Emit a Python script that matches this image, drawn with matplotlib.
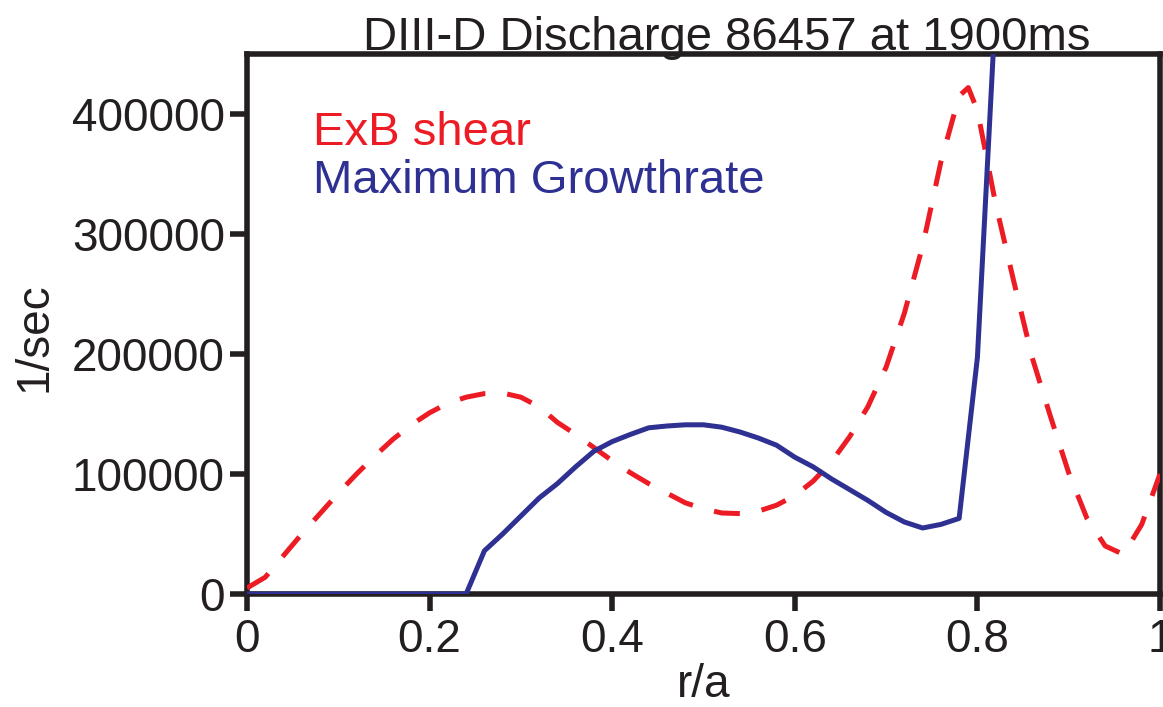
import numpy as np
import matplotlib
matplotlib.use("Agg")
import matplotlib.pyplot as plt

plt.rcParams['font.family'] = ['Liberation Sans', 'DejaVu Sans']

# r/a grid, sampled every 0.02 (with an extra point near the shear peak)
r_shear = [0.00, 0.02, 0.04, 0.06, 0.08, 0.10, 0.12, 0.14, 0.16, 0.18,
           0.20, 0.22, 0.24, 0.26, 0.28, 0.30, 0.32, 0.34, 0.36, 0.38,
           0.40, 0.42, 0.44, 0.46, 0.48, 0.50, 0.52, 0.54, 0.56, 0.58,
           0.60, 0.62, 0.64, 0.66, 0.68, 0.70, 0.72, 0.74, 0.76, 0.78,
           0.79, 0.80, 0.82, 0.84, 0.86, 0.88, 0.90, 0.92, 0.94, 0.96,
           0.98, 1.00]
exb_shear = [5000, 14000, 32000, 50000, 67000, 84000, 100000, 115000, 129000, 141000,
             151000, 159000, 164000, 167000, 167500, 164000, 156000, 143000, 133000, 122000,
             111000, 101000, 92000, 84000, 76000, 71000, 67500, 67000, 69000, 74000,
             82000, 94000, 110000, 131000, 156000, 189000, 234000, 290000, 360000, 415000,
             422000, 403000, 325000, 260000, 197000, 148000, 101000, 63000, 40000, 33000,
             58000, 100000]

r_growth = [0.00, 0.02, 0.04, 0.06, 0.08, 0.10, 0.12, 0.14, 0.16, 0.18,
            0.20, 0.22, 0.24, 0.26, 0.28, 0.30, 0.32, 0.34, 0.36, 0.38,
            0.40, 0.42, 0.44, 0.46, 0.48, 0.50, 0.52, 0.54, 0.56, 0.58,
            0.60, 0.62, 0.64, 0.66, 0.68, 0.70, 0.72, 0.74, 0.76, 0.78,
            0.80, 0.82]
max_growth = [0, 0, 0, 0, 0, 0, 0, 0, 0, 0,
              0, 0, 0, 36000, 50000, 65000, 80000, 92000, 106000, 119000,
              127000, 133000, 138500, 140000, 141000, 141000, 139000, 135000, 130000, 124000,
              114000, 106000, 96000, 87000, 78000, 68000, 60000, 55000, 58000, 63000,
              197000, 490000]

x_ticks = [0, 0.2, 0.4, 0.6, 0.8, 1.0]
x_tick_labels = ["0", "0.2", "0.4", "0.6", "0.8", "1"]
y_ticks = [0, 100000, 200000, 300000, 400000]
y_tick_labels = ["0", "100000", "200000", "300000", "400000"]

black = "#231f20"
red = "#ed1c24"
blue = "#2e3192"

fig = plt.figure(figsize=(11.63, 7.07), dpi=100)
ax = fig.add_axes([247 / 1163, 113 / 707, 913 / 1163, 540 / 707])

ax.plot(r_shear, exb_shear, color=red, lw=3.6, dashes=(5.2, 4.4), zorder=3)
ax.plot(r_growth, max_growth, color=blue, lw=3.6, zorder=3)

ax.set_xlim(0, 1)
ax.set_ylim(0, 450000)
ax.set_xticks(x_ticks)
ax.set_xticklabels(x_tick_labels)
ax.set_yticks(y_ticks)
ax.set_yticklabels(y_tick_labels)

for s in ax.spines.values():
    s.set_linewidth(4)
    s.set_color(black)
ax.tick_params(axis='both', direction='out', length=12, width=4, color=black,
               labelsize=33, labelcolor=black)
ax.tick_params(axis='x', pad=5)
ax.tick_params(axis='y', pad=4)
ax.tick_params(top=False, right=False)

ax.text(0.526, 1.008, "DIII-D Discharge 86457 at 1900ms", transform=ax.transAxes,
        ha='center', va='baseline', fontsize=34, color=black)
ax.text(0.0723, 0.831, "ExB shear", transform=ax.transAxes,
        ha='left', va='baseline', fontsize=34, color=red)
ax.text(0.0723, 0.7426, "Maximum Growthrate", transform=ax.transAxes,
        ha='left', va='baseline', fontsize=34, color=blue)
ax.text(-0.2327, 0.476, "1/sec", transform=ax.transAxes, rotation=90,
        ha='center', va='center', fontsize=33, color=black)
ax.text(0.5, -0.1907, "r/a", transform=ax.transAxes,
        ha='center', va='baseline', fontsize=33, color=black)

fig.savefig("out.png", dpi=100)
